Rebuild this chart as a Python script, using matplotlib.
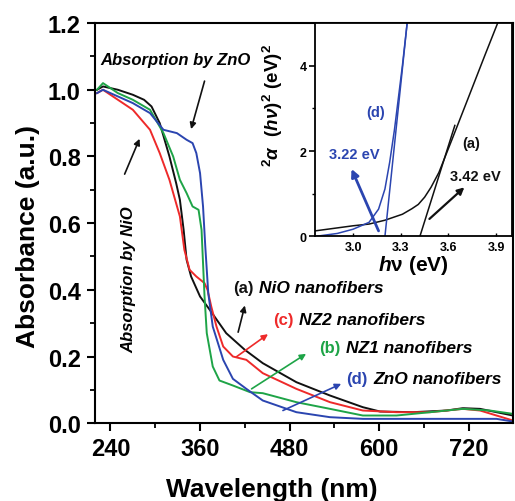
import numpy as np
import matplotlib
matplotlib.use("Agg")
from matplotlib import pyplot as plt

plt.rcParams["font.family"] = ["Liberation Sans", "DejaVu Sans"]
plt.rcParams["font.weight"] = "bold"
plt.rcParams["mathtext.fontset"] = "custom"
plt.rcParams["mathtext.rm"] = "Liberation Sans:bold"
plt.rcParams["mathtext.it"] = "Liberation Sans:bold:italic"
plt.rcParams["mathtext.bf"] = "Liberation Sans:bold"

# main spectra: wavelength (nm) vs absorbance (a.u.)
nio_nm = [222, 230, 250, 270, 285, 295, 306, 319, 328, 333, 338, 342, 348, 360, 373,
          395, 420, 444, 489, 534, 578, 601, 645, 690, 712, 735, 757, 779]
nio_abs = [1.00, 1.01, 1.00, 0.985, 0.97, 0.95, 0.90, 0.80, 0.72, 0.67, 0.58, 0.49, 0.44,
           0.38, 0.34, 0.27, 0.22, 0.18, 0.123, 0.083, 0.048, 0.035, 0.033, 0.038, 0.045,
           0.043, 0.033, 0.023]

nz2_nm = [222, 230, 250, 270, 293, 306, 319, 333, 339, 346, 355, 366, 370, 375, 382, 391,
          404, 422, 444, 489, 534, 578, 623, 668, 712, 735, 757, 779]
nz2_abs = [0.99, 1.00, 0.97, 0.94, 0.88, 0.81, 0.73, 0.62, 0.52, 0.46, 0.44, 0.42, 0.40,
           0.35, 0.29, 0.23, 0.20, 0.19, 0.15, 0.103, 0.063, 0.038, 0.033, 0.033, 0.043,
           0.038, 0.023, 0.008]

nz1_nm = [222, 230, 250, 270, 293, 311, 324, 333, 342, 350, 358, 362, 364, 366, 369, 377,
          386, 404, 427, 444, 489, 534, 578, 623, 668, 712, 748, 779]
nz1_abs = [1.00, 1.02, 0.99, 0.97, 0.94, 0.87, 0.80, 0.73, 0.69, 0.65, 0.64, 0.58, 0.48,
           0.38, 0.27, 0.17, 0.128, 0.113, 0.093, 0.09, 0.063, 0.043, 0.023, 0.023, 0.033,
           0.043, 0.038, 0.028]

zno_nm = [222, 230, 250, 270, 293, 311, 320, 329, 342, 350, 355, 360, 364, 367, 371, 377,
          391, 404, 422, 444, 489, 534, 578, 668, 757, 779]
zno_abs = [0.99, 1.00, 0.98, 0.96, 0.93, 0.88, 0.875, 0.87, 0.85, 0.84, 0.81, 0.75, 0.65,
           0.53, 0.39, 0.29, 0.19, 0.133, 0.103, 0.068, 0.033, 0.018, 0.013, 0.013, 0.013,
           0.005]

# inset: Tauc plot
a_ev = [2.76, 2.9, 3.0, 3.1, 3.2, 3.31, 3.37, 3.41, 3.45, 3.49, 3.54, 3.62, 3.72, 3.83, 3.91]
a_val = [0.13, 0.2, 0.25, 0.29, 0.38, 0.52, 0.65, 0.75, 0.92, 1.15, 1.5, 2.25, 3.2, 4.25, 5.0]
a_fit_ev = [3.42, 3.64]
a_fit_val = [0.0, 2.6]

d_ev = [2.76, 2.9, 3.0, 3.1, 3.16, 3.20, 3.23, 3.26, 3.31, 3.34]
d_val = [0.0, 0.07, 0.17, 0.33, 0.64, 1.11, 1.74, 2.5, 4.0, 5.0]
d_fit_ev = [3.20, 3.34]
d_fit_val = [0.0, 5.0]

BLACK = "#111111"
RED = "#ee2a2a"
GREEN = "#1ea447"
BLUE = "#2b45b0"

fig = plt.figure(figsize=(5.15, 5.02), dpi=100)
ax = fig.add_axes([0.184, 0.155, 0.812, 0.797])

ax.plot(nio_nm, nio_abs, color=BLACK, lw=1.4)
ax.plot(nz2_nm, nz2_abs, color=RED, lw=1.4)
ax.plot(nz1_nm, nz1_abs, color=GREEN, lw=1.4)
ax.plot(zno_nm, zno_abs, color=BLUE, lw=1.4)

ax.set_xlim(219, 779)
ax.set_ylim(0, 1.2)
ax.set_xticks(range(240, 721, 120))
ax.set_xticks(range(300, 780, 120), minor=True)
ax.set_yticks(np.arange(0, 1.21, 0.2))
ax.set_yticks(np.arange(0.1, 1.2, 0.2), minor=True)
ax.yaxis.set_major_formatter(matplotlib.ticker.FormatStrFormatter("%.1f"))
ax.tick_params(axis="both", which="major", direction="out", length=6, width=1.5,
               labelsize=17, pad=4)
ax.tick_params(axis="both", which="minor", direction="out", length=3.5, width=1.3)
for s in ax.spines.values():
    s.set_linewidth(1.5)

ax.set_xlabel("Wavelength (nm)", fontsize=19, fontweight="bold")
ax.xaxis.set_label_coords(0.423, -0.135)
ax.set_ylabel("Absorbance (a.u.)", fontsize=19, fontweight="bold")
ax.yaxis.set_label_coords(-0.13, 0.47)

# annotations
arr = dict(arrowstyle="-|>", lw=1.2, mutation_scale=9, shrinkA=0, shrinkB=0)
ax.text(226, 1.092, "Absorption by ZnO", fontsize=12, style="italic",
        va="center", ha="left")
ax.annotate("", xy=(348, 0.882), xytext=(366, 1.026), arrowprops=dict(arr, color=BLACK))
ax.text(264, 0.433, "Absorption by NiO", fontsize=12, style="italic",
        rotation=90, va="center", ha="center")
ax.annotate("", xy=(279, 0.853), xytext=(259, 0.747), arrowprops=dict(arr, color=BLACK))

labels = [("(a)", "NiO nanofibers", 404, 0.406, BLACK),
          ("(c)", "NZ2 nanofibers", 458, 0.31, RED),
          ("(b)", "NZ1 nanofibers", 520, 0.228, GREEN),
          ("(d)", "ZnO nanofibers", 556, 0.133, BLUE)]
for tag, name, x, y, c in labels:
    t = ax.text(x, y, tag, fontsize=12, color=c, va="center")
    ax.annotate(name, xy=(1, 0.5), xycoords=t, xytext=(4, 0),
                textcoords="offset points", fontsize=12.5, style="italic",
                va="center", ha="left")

ax.annotate("", xy=(420, 0.353), xytext=(411, 0.273), arrowprops=dict(arr, color=BLACK))
ax.annotate("", xy=(451, 0.267), xytext=(408, 0.198), arrowprops=dict(arr, color=RED))
ax.annotate("", xy=(502, 0.208), xytext=(429, 0.103), arrowprops=dict(arr, color=GREEN))
ax.annotate("", xy=(549, 0.118), xytext=(471, 0.038), arrowprops=dict(arr, color=BLUE))

# inset
ins = fig.add_axes([0.6117, 0.527, 0.3825, 0.4253])
ins.plot(a_ev, a_val, color=BLACK, lw=1.1)
ins.plot(a_fit_ev, a_fit_val, color=BLACK, lw=1.1)
ins.plot(d_ev, d_val, color=BLUE, lw=1.1)
ins.plot(d_fit_ev, d_fit_val, color=BLUE, lw=1.1)
ins.set_xlim(2.76, 4.0)
ins.set_ylim(0, 5.0)
ins.set_xticks([3.0, 3.3, 3.6, 3.9])
ins.set_yticks([0, 2, 4])
ins.set_yticks([1, 3], minor=True)
ins.tick_params(axis="y", which="major", direction="out", length=4, width=1.2,
                labelsize=9, pad=2)
ins.tick_params(axis="y", which="minor", direction="out", length=2.5, width=1.0)
ins.tick_params(axis="x", which="major", direction="in", length=2, width=1.0,
                labelsize=9, pad=3)
for s in ins.spines.values():
    s.set_linewidth(1.3)
ins.set_xlabel(r"$h$ν (eV)", fontsize=15, fontweight="bold", labelpad=0)
ins.set_ylabel(r"${}^{2}\alpha\ \ (h\nu)^{2}\ (\mathrm{eV})^{2}$", fontsize=13.5,
               labelpad=3)
ins.yaxis.set_label_coords(-0.15, 0.62)

ins.text(3.14, 2.92, "(d)", fontsize=10.5, color=BLUE, ha="center", va="center")
ins.text(2.85, 1.93, "3.22 eV", fontsize=10.5, color=BLUE, ha="left", va="center")
ins.annotate("", xy=(2.99, 1.58), xytext=(3.16, 0.13),
             arrowprops=dict(arrowstyle="-|>", lw=2.0, mutation_scale=11,
                             color=BLUE, shrinkA=0, shrinkB=0))
ins.text(3.74, 2.2, "(a)", fontsize=10.5, color=BLACK, ha="center", va="center")
ins.text(3.77, 1.42, "3.42 eV", fontsize=10.5, color=BLACK, ha="center", va="center")
ins.annotate("", xy=(3.70, 1.15), xytext=(3.48, 0.41),
             arrowprops=dict(arrowstyle="-|>", lw=1.6, mutation_scale=10,
                             color=BLACK, shrinkA=0, shrinkB=0))

fig.savefig("out.png", dpi=100)
